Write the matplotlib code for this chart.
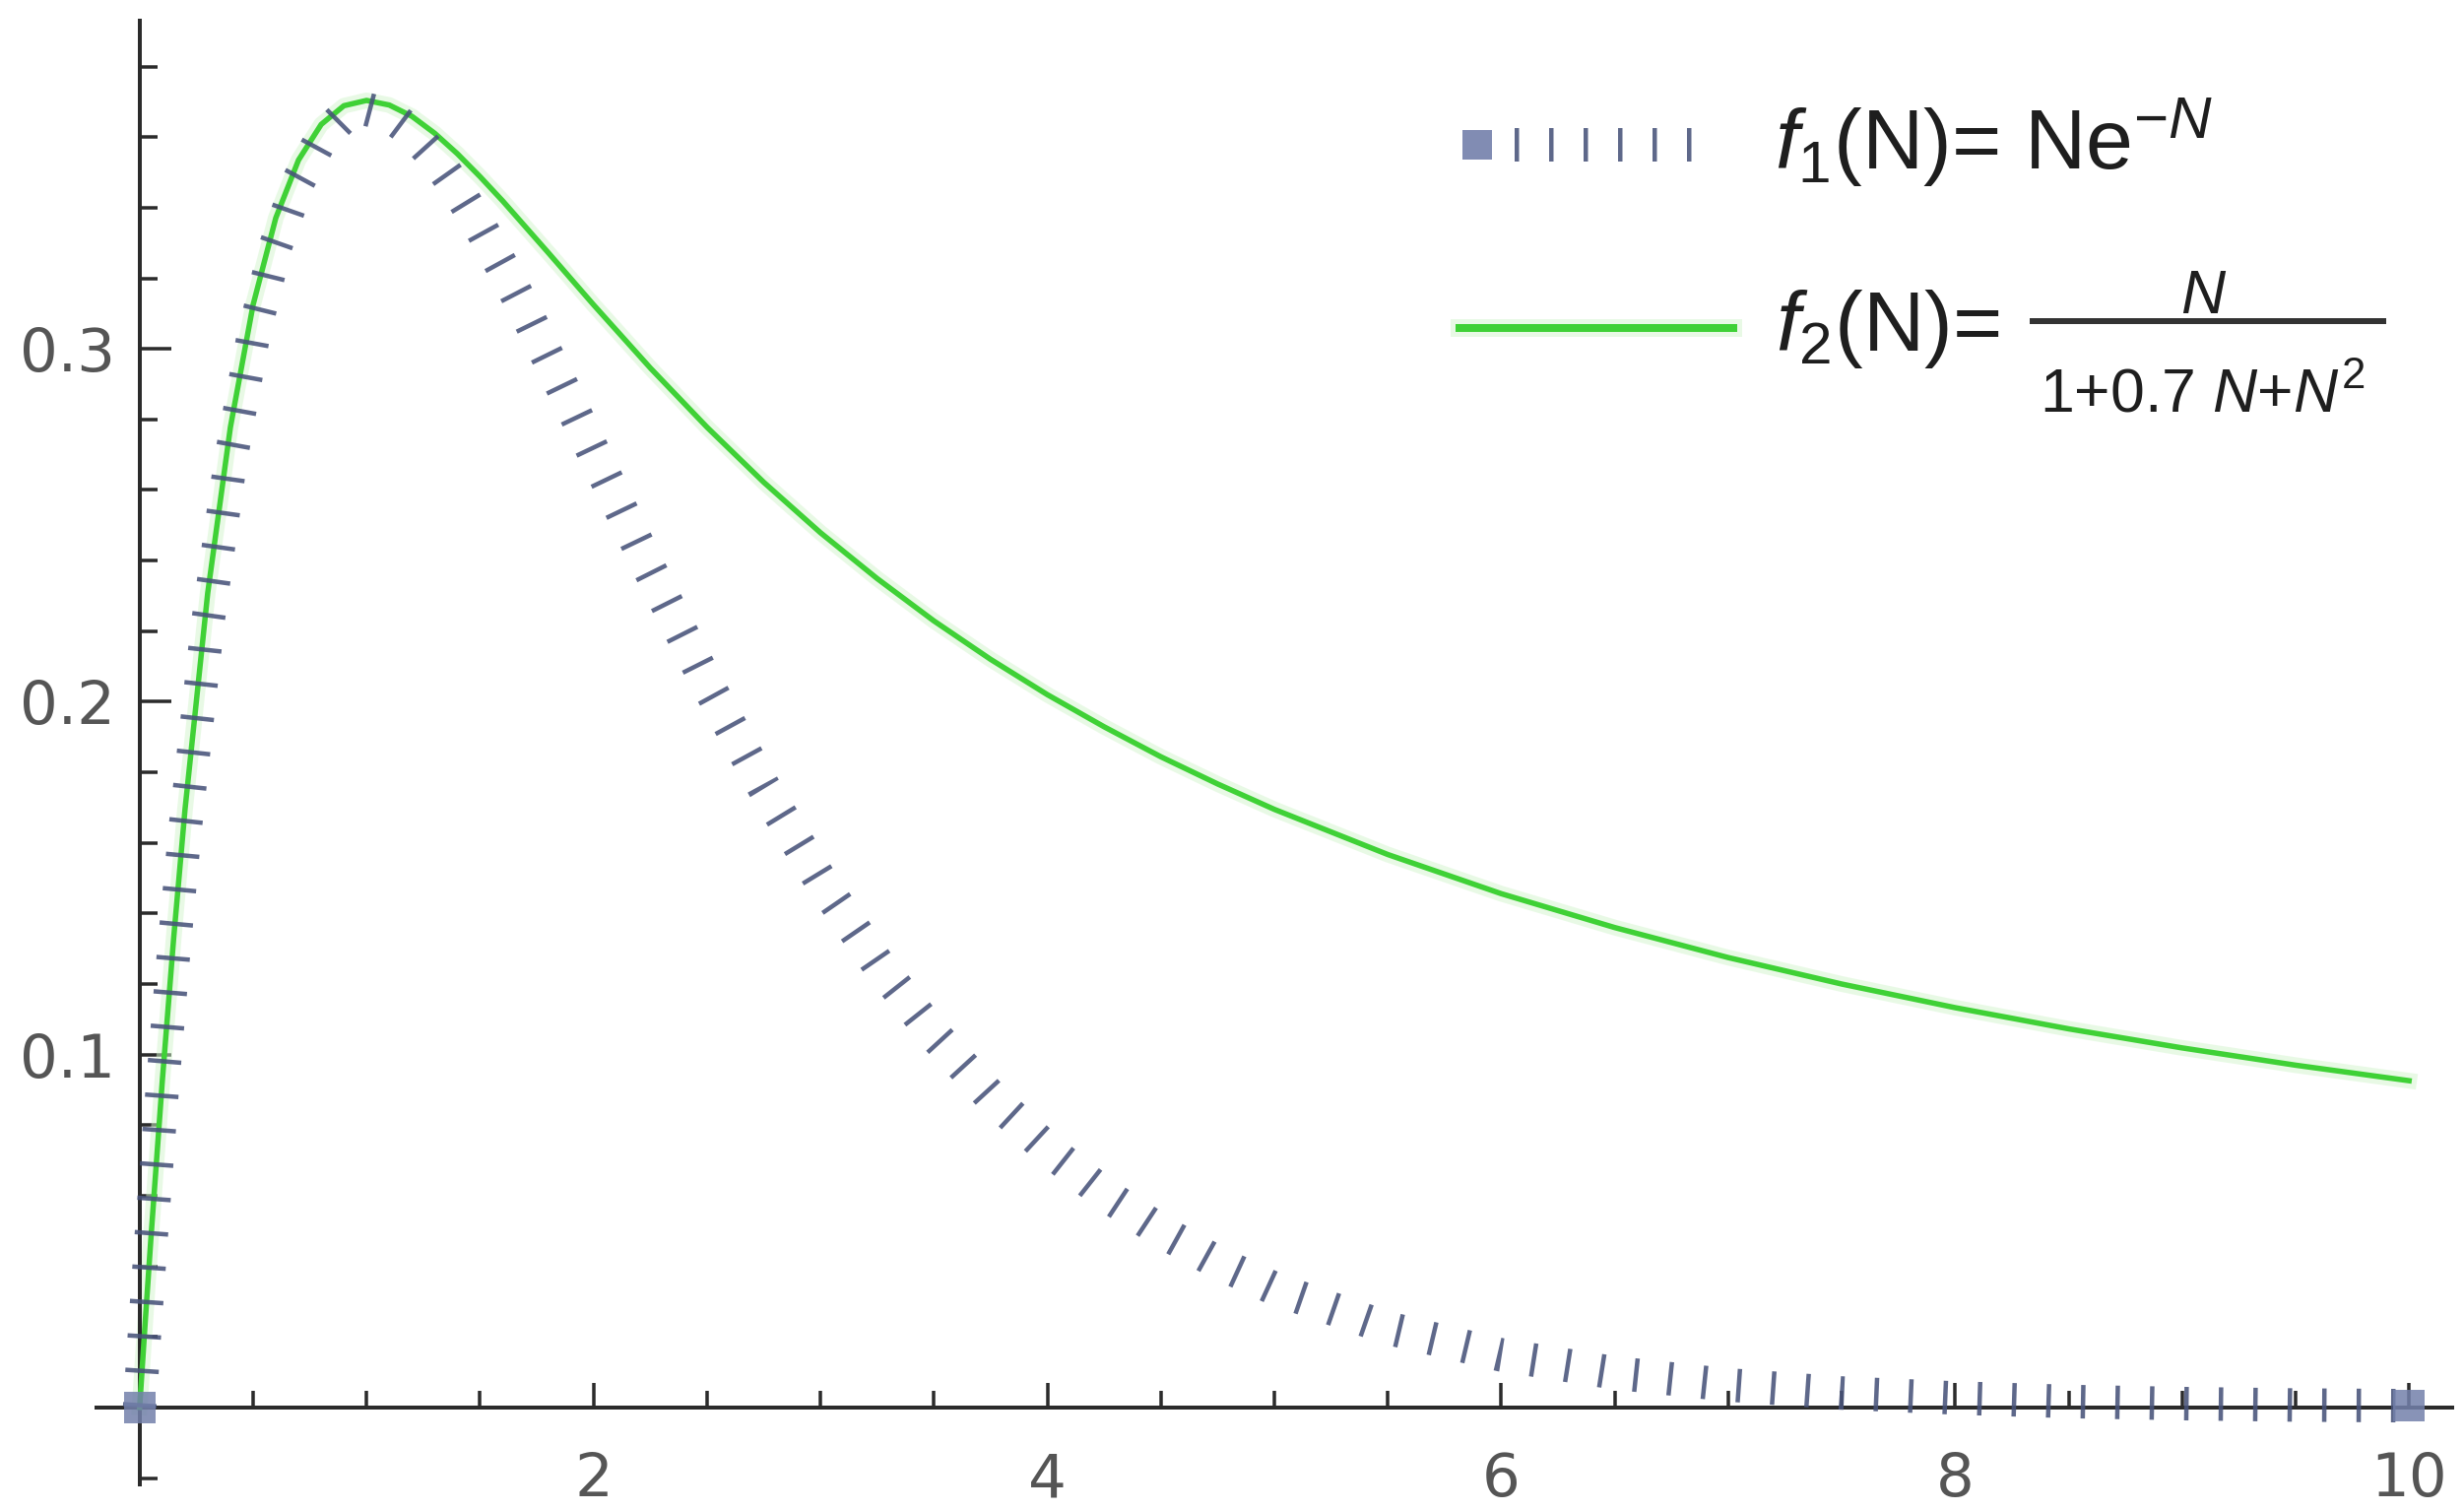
import matplotlib

matplotlib.use("Agg")
import matplotlib.pyplot as plt
from matplotlib.lines import Line2D
from matplotlib.ticker import FixedLocator, NullFormatter

W, H, DPI = 2502, 1534, 100
PT = 72 / DPI  # points per output pixel

plt.rcParams["lines.scale_dashes"] = False
plt.rcParams["font.family"] = ["Liberation Sans", "DejaVu Sans"]
plt.rcParams["mathtext.fontset"] = "custom"
plt.rcParams["mathtext.rm"] = "Liberation Sans"
plt.rcParams["mathtext.it"] = "Liberation Sans:italic"
plt.rcParams["mathtext.bf"] = "Liberation Sans:bold"

# values
N = [0, 0.025, 0.05, 0.1, 0.15, 0.2, 0.3, 0.4, 0.5, 0.6, 0.7, 0.8, 0.9, 1.0,
     1.1, 1.2, 1.3, 1.4, 1.5, 1.6, 1.7, 1.8, 1.9, 2.0, 2.25, 2.5, 2.75, 3.0,
     3.25, 3.5, 3.75, 4.0, 4.25, 4.5, 4.75, 5.0, 5.5, 6.0, 6.5, 7.0, 7.5, 8.0,
     8.5, 9.0, 9.5, 10.0]
F1 = [0.0, 0.0244, 0.0476, 0.0905, 0.1291, 0.1637, 0.2222, 0.2681, 0.3033,
      0.3293, 0.3476, 0.3595, 0.3659, 0.3679, 0.3662, 0.3614, 0.3543, 0.3452,
      0.3347, 0.3230, 0.3106, 0.2975, 0.2842, 0.2707, 0.2372, 0.2052, 0.1758,
      0.1494, 0.1260, 0.1057, 0.0882, 0.0733, 0.0606, 0.0500, 0.0411, 0.0337,
      0.0225, 0.0149, 0.0098, 0.0064, 0.0041, 0.0027, 0.0017, 0.0011, 0.0007,
      0.0005]
F2 = [0.0, 0.0246, 0.0482, 0.0926, 0.1330, 0.1695, 0.2308, 0.2778, 0.3125,
      0.3371, 0.3535, 0.3636, 0.3689, 0.3704, 0.3691, 0.3659, 0.3611, 0.3553,
      0.3488, 0.3419, 0.3346, 0.3273, 0.3199, 0.3125, 0.2946, 0.2778, 0.2622,
      0.2479, 0.2349, 0.2229, 0.2120, 0.2020, 0.1929, 0.1844, 0.1767, 0.1695,
      0.1567, 0.1456, 0.1360, 0.1275, 0.1200, 0.1133, 0.1073, 0.1019, 0.0970,
      0.0926]

X_MAJOR = [2, 4, 6, 8, 10]
X_MINOR = [0.5, 1, 1.5, 2.5, 3, 3.5, 4.5, 5, 5.5, 6.5, 7, 7.5, 8.5, 9, 9.5]
Y_MAJOR = [0.1, 0.2, 0.3]
Y_MINOR = [-0.02, 0.02, 0.04, 0.06, 0.08, 0.12, 0.14, 0.16, 0.18, 0.22, 0.24,
           0.26, 0.28, 0.32, 0.34, 0.36, 0.38]

LABEL1 = r"$f_1$(N)= Ne$^{-N}$"
LABEL2 = r"$f_2$(N)="
FRAC_NUM = r"$N$"
FRAC_DEN = r"1+0.7 $N$+$N^2$"

BLUE, BLUE_SQ = "#48537a", "#7380ab"
GREEN, GREEN_HALO = "#3fd136", "#d2f5cc"
AXIS, TICKTXT, TXT = "#2b2b2b", "#555555", "#1e1e1e"


def fpos(x, y):
    """pixel position (from top-left) -> figure fraction"""
    return x / W, 1 - y / H


fig = plt.figure(figsize=(W / DPI, H / DPI), dpi=DPI)
ax = fig.add_axes([98 / W, 27 / H, (2490 - 98) / W, (1507 - 21) / H])
ax.set_xlim(-0.19, 10.19)
ax.set_ylim(-0.0218, 0.393)

# curves
ax.plot(N, F2, color=GREEN_HALO, lw=16 * PT, alpha=0.5, zorder=2)
ax.plot(N, F2, color=GREEN, lw=5.5 * PT, zorder=3)
ax.plot(N, F1, color=BLUE, lw=34 * PT, dashes=(4.5 * PT, 30.5 * PT),
        dash_capstyle="butt", alpha=0.88, zorder=4)
ax.plot([N[0], N[-1]], [F1[0], F1[-1]], "s", ms=32 * PT, mew=0,
        color=BLUE_SQ, alpha=0.85, zorder=4)

# Mathematica-style crossing axes
for s in ["top", "right"]:
    ax.spines[s].set_visible(False)
ax.spines["left"].set_position(("data", 0))
ax.spines["bottom"].set_position(("data", 0))
for s in ["left", "bottom"]:
    ax.spines[s].set_color(AXIS)
    ax.spines[s].set_linewidth(4 * PT)
ax.xaxis.set_major_locator(FixedLocator(X_MAJOR))
ax.xaxis.set_minor_locator(FixedLocator(X_MINOR))
ax.yaxis.set_major_locator(FixedLocator(Y_MAJOR))
ax.yaxis.set_minor_locator(FixedLocator(Y_MINOR))
ax.xaxis.set_minor_formatter(NullFormatter())
ax.yaxis.set_minor_formatter(NullFormatter())
ax.set_xticklabels([str(v) for v in X_MAJOR])
ax.set_yticklabels([f"{v:.1f}" for v in Y_MAJOR])
ax.tick_params(axis="both", which="both", direction="in", color=AXIS,
               width=3.5 * PT, labelcolor=TICKTXT, labelsize=44,
               labelfontfamily="DejaVu Sans")
ax.tick_params(axis="x", which="major", length=25 * PT, pad=32)
ax.tick_params(axis="x", which="minor", length=17 * PT)
ax.tick_params(axis="y", which="major", length=32 * PT, pad=18)
ax.tick_params(axis="y", which="minor", length=18 * PT)

# legend, laid out by hand to mimic the Mathematica look
y1, y2 = 147, 333
fig.add_artist(Line2D(*zip(fpos(1538, y1), fpos(1718, y1)), color=BLUE,
                      lw=34 * PT, dashes=(4.5 * PT, 30.5 * PT),
                      dash_capstyle="butt", alpha=0.88,
                      transform=fig.transFigure))
fig.add_artist(Line2D([fpos(1500, y1)[0]], [fpos(1500, y1)[1]], marker="s",
                      ms=30 * PT, mew=0, color=BLUE_SQ, alpha=0.9, ls="none",
                      transform=fig.transFigure))
fig.add_artist(Line2D(*zip(fpos(1482, y2), fpos(1760, y2)), color=GREEN_HALO,
                      lw=18 * PT, alpha=0.5, transform=fig.transFigure))
fig.add_artist(Line2D(*zip(fpos(1482, y2), fpos(1760, y2)), color=GREEN,
                      lw=8 * PT, transform=fig.transFigure))

fig.text(*fpos(1802, 172), LABEL1, fontsize=62, color=TXT, va="baseline")
fig.text(*fpos(1803, 356), LABEL2, fontsize=62, color=TXT, va="baseline")
fig.add_artist(Line2D(*zip(fpos(2064, 326), fpos(2420, 326)), color="#333333",
                      lw=6 * PT, transform=fig.transFigure))
fig.text(*fpos(2238, 318), FRAC_NUM, fontsize=45, color=TXT, ha="center",
         va="baseline")
fig.text(*fpos(2236, 418), FRAC_DEN, fontsize=45, color=TXT, ha="center",
         va="baseline")

fig.savefig("out.png", dpi=DPI)
